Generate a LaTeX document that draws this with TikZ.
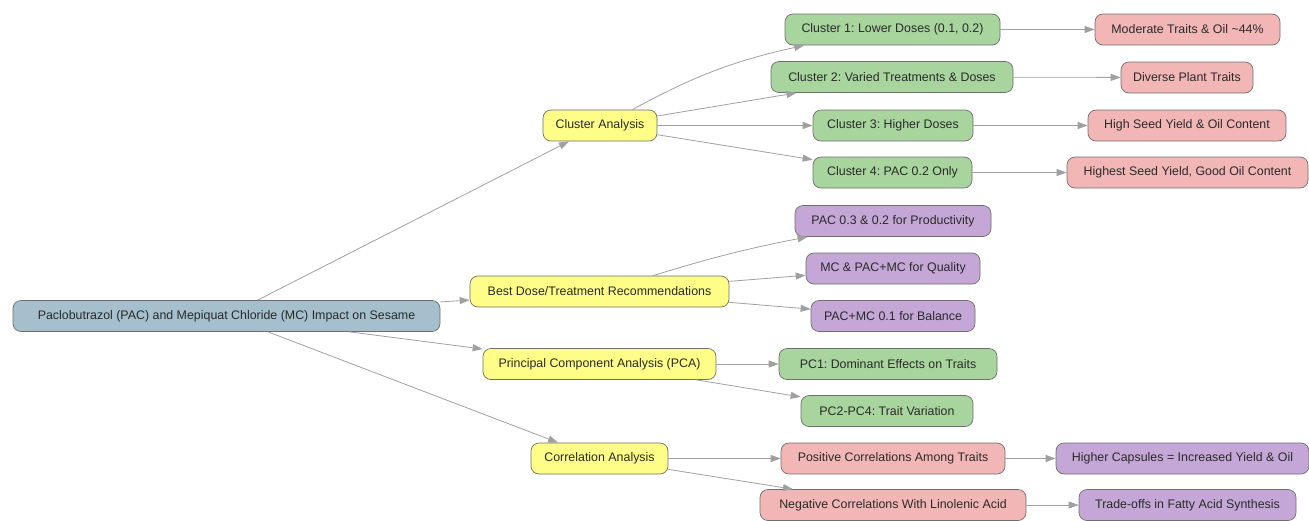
\documentclass[tikz,border=0pt]{standalone}
\usepackage{fontspec}
\setmainfont{Liberation Sans}
\usetikzlibrary{arrows.meta}
\definecolor{rootc}{HTML}{A5BFCC}
\definecolor{yelc}{HTML}{FDFD88}
\definecolor{grnc}{HTML}{A8D49E}
\definecolor{pnkc}{HTML}{F2B6B6}
\definecolor{purc}{HTML}{C4A7D6}
\definecolor{bordc}{HTML}{6E6E6E}
\definecolor{edgec}{HTML}{A0A0A0}
\definecolor{txtc}{HTML}{2A2A2A}
\frenchspacing
\tikzset{
  box/.style={draw=bordc, rounded corners=8pt, minimum height=31pt, inner sep=0pt,
    font=\fontsize{12.4}{14}\selectfont, text=txtc, line width=0.7pt},
  rootbox/.style={box, fill=rootc},
  yelbox/.style={box, fill=yelc},
  grnbox/.style={box, fill=grnc},
  pnkbox/.style={box, fill=pnkc},
  purbox/.style={box, fill=purc},
  conn/.style={draw=edgec, line width=0.8pt, -{Triangle[length=10pt,width=7pt]}},
}
\begin{document}
\begin{tikzpicture}[x=1pt,y=-1pt]
\useasboundingbox (0,0) rectangle (1309,520);
\node[rootbox, minimum width=427pt] (root) at (226.5,316) {Paclobutrazol (PAC) and Mepiquat Chloride (MC) Impact on Sesame};
\node[yelbox, minimum width=114pt] (ca) at (600,125.5) {Cluster Analysis};
\node[yelbox, minimum width=259pt] (bd) at (599.5,291.5) {Best Dose/Treatment Recommendations};
\node[yelbox, minimum width=233pt] (pca) at (599.5,364) {Principal Component Analysis (PCA)};
\node[yelbox, minimum width=137pt] (cor) at (599.5,458.5) {Correlation Analysis};
\node[grnbox, minimum width=215pt] (c1) at (892.5,29.5) {Cluster 1: Lower Doses (0.1, 0.2)};
\node[grnbox, minimum width=242pt] (c2) at (892,77) {Cluster 2: Varied Treatments \& Doses};
\node[grnbox, minimum width=160pt] (c3) at (893,125.5) {Cluster 3: Higher Doses};
\node[grnbox, minimum width=159pt] (c4) at (892.5,172.5) {Cluster 4: PAC 0.2 Only};
\node[pnkbox, minimum width=185pt] (m1) at (1187.5,29.5) {Moderate Traits \& Oil \textasciitilde44\%};
\node[pnkbox, minimum width=132pt] (m2) at (1187,77.5) {Diverse Plant Traits};
\node[pnkbox, minimum width=198pt] (m3) at (1187,125.5) {High Seed Yield \& Oil Content};
\node[pnkbox, minimum width=241pt] (m4) at (1187.5,172.5) {Highest Seed Yield, Good Oil Content};
\node[purbox, minimum width=196pt] (b1) at (893,221) {PAC 0.3 \& 0.2 for Productivity};
\node[purbox, minimum width=174pt] (b2) at (893,268.5) {MC \& PAC+MC for Quality};
\node[purbox, minimum width=164pt] (b3) at (893,316) {PAC+MC 0.1 for Balance};
\node[grnbox, minimum width=218pt] (p1) at (888,364) {PC1: Dominant Effects on Traits};
\node[grnbox, minimum width=172pt] (p2) at (887,411) {PC2-PC4: Trait Variation};
\node[pnkbox, minimum width=224pt] (r1) at (893,458.5) {Positive Correlations Among Traits};
\node[pnkbox, minimum width=266pt] (r2) at (893,505) {Negative Correlations With Linolenic Acid};
\node[purbox, minimum width=253pt] (h1) at (1182.5,458.5) {Higher Capsules = Increased Yield \& Oil};
\node[purbox, minimum width=217pt] (h2) at (1187.5,505) {Trade-offs in Fatty Acid Synthesis};
\draw[conn] (root) -- (ca);
\draw[conn] (root) -- (bd);
\draw[conn] (root) -- (pca);
\draw[conn] (root) -- (cor);
\draw[conn] (ca) to[bend left=8] (c1);
\draw[conn] (ca) -- (c2);
\draw[conn] (ca) -- (c3);
\draw[conn] (ca) -- (c4);
\draw[conn] (c1) -- (m1);
\draw[conn] (c2) -- (m2);
\draw[conn] (c3) -- (m3);
\draw[conn] (c4) -- (m4);
\draw[conn] (bd) to[bend left=3] (b1);
\draw[conn] (bd) -- (b2);
\draw[conn] (bd) -- (b3);
\draw[conn] (pca) -- (p1);
\draw[conn] (pca) -- (p2);
\draw[conn] (cor) -- (r1);
\draw[conn] (cor) -- (r2);
\draw[conn] (r1) -- (h1);
\draw[conn] (r2) -- (h2);
\end{tikzpicture}
\end{document}
